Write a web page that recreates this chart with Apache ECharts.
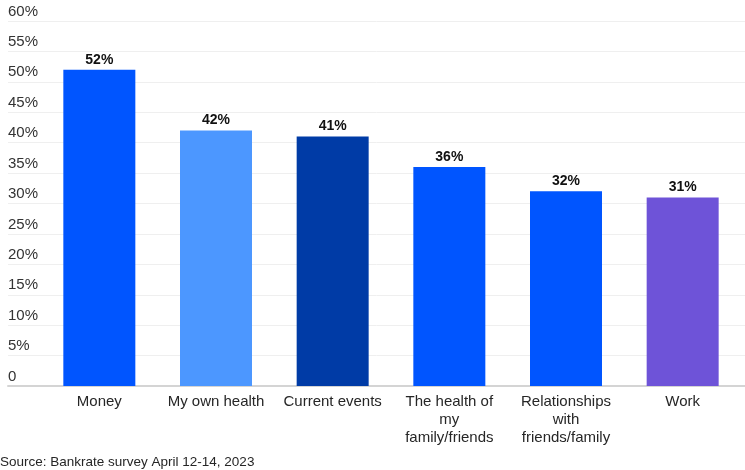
<!DOCTYPE html>
<html>
<head>
<meta charset="utf-8">
<script src="https://cdn.jsdelivr.net/npm/echarts@6/dist/echarts.min.js"></script>
<style>html,body{margin:0;padding:0;background:#fff;}#c{width:745px;height:470px;}</style>
</head>
<body>
<div id="c"></div>
<script>
var categories = ['Money', 'My own health', 'Current events', 'The health of\nmy\nfamily/friends', 'Relationships\nwith\nfriends/family', 'Work'];
var values = [52, 42, 41, 36, 32, 31];
var barColors = ['#0055FF', '#4C97FF', '#003BA6', '#0055FF', '#0055FF', '#6E53D8'];
var sourceText = 'Source: Bankrate survey April 12-14, 2023';

var chart = echarts.init(document.getElementById('c'));
var font = '"Liberation Sans", Arial, sans-serif';
chart.setOption({
  animation: false,
  textStyle: { fontFamily: font },
  grid: [
    { left: 8, right: 0, top: 21, bottom: 84 },
    { left: 41, right: 4, top: 21, bottom: 84 }
  ],
  xAxis: [
    { gridIndex: 0, type: 'category', data: categories, axisLabel: { show: false }, axisTick: { show: false },
      axisLine: { show: true, lineStyle: { color: '#d4d4d4', width: 2 } } },
    { gridIndex: 1, type: 'category', data: categories, axisTick: { show: false }, axisLine: { show: false },
      axisLabel: { color: '#262626', fontSize: 15, lineHeight: 18, margin: 7, interval: 0, fontFamily: font } }
  ],
  yAxis: [
    { gridIndex: 0, type: 'value', min: 0, max: 60, interval: 5,
      axisLine: { show: false }, axisTick: { show: false },
      splitLine: { lineStyle: { color: '#efefef', width: 1 } },
      axisLabel: { inside: true, margin: 0, align: 'left', verticalAlign: 'bottom', padding: [0, 0, 2, 0],
        color: '#333333', fontSize: 15, fontFamily: font,
        formatter: function (v) { return v === 0 ? '0' : v + '%'; } } },
    { gridIndex: 1, type: 'value', min: 0, max: 60, interval: 5, show: false, splitLine: { show: false } }
  ],
  series: [{
    type: 'bar', xAxisIndex: 1, yAxisIndex: 1, barWidth: 72,
    data: values.map(function (v, i) { return { value: v, itemStyle: { color: barColors[i] } }; }),
    label: { show: true, position: 'top', distance: 3, fontWeight: 'bold', fontSize: 14, color: '#111',
      fontFamily: font, formatter: function (p) { return p.value + '%'; } }
  }],
  graphic: [{ type: 'text', left: 0, top: 455, style: { text: sourceText, fontSize: 13.5, fill: '#262626', fontFamily: font } }]
});
</script>
</body>
</html>
